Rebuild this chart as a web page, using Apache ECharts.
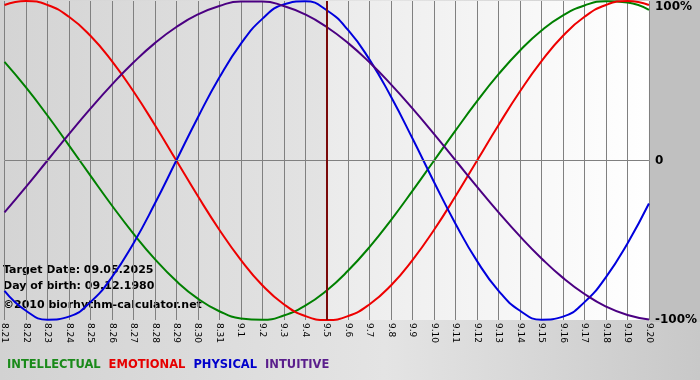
<!DOCTYPE html>
<html>
<head>
<meta charset="utf-8">
<script src="https://cdn.jsdelivr.net/npm/echarts@6/dist/echarts.min.js"></script>
<style>
html,body{margin:0;padding:0;}
#chart{width:700px;height:380px;}
</style>
</head>
<body>
<div id="chart"></div>
<script>
const days = ['8.21','8.22','8.23','8.24','8.25','8.26','8.27','8.28','8.29','8.30','8.31',
  '9.1','9.2','9.3','9.4','9.5','9.6','9.7','9.8','9.9','9.10','9.11','9.12','9.13','9.14','9.15','9.16','9.17','9.18','9.19','9.20'];
const targetDay = '9.5';
const intellectual = [61.8,45.8,28.2,9.5,-9.5,-28.2,-45.8,-61.8,-75.6,-86.6,-94.5,-99.0,-99.9,-97.2,-91.0,-81.5,-69.0,-54.1,-37.2,-18.9,0,18.9,37.2,54.1,69.0,81.5,91.0,97.2,99.9,99.0,94.5];
const emotional = [97.5,100,97.5,90.1,78.2,62.3,43.4,22.3,0,-22.3,-43.4,-62.3,-78.2,-90.1,-97.5,-100,-97.5,-90.1,-78.2,-62.3,-43.4,-22.3,0,22.3,43.4,62.3,78.2,90.1,97.5,100,97.5];
const physical = [-81.7,-94.2,-99.8,-97.9,-88.8,-73.1,-52.0,-27.0,0,27.0,52.0,73.1,88.8,97.9,99.8,94.2,81.7,63.1,39.8,13.6,-13.6,-39.8,-63.1,-81.7,-94.2,-99.8,-97.9,-88.8,-73.1,-52.0,-27.0];
const intuitive = [-32.5,-16.5,0,16.5,32.5,47.6,61.4,73.6,83.7,91.6,96.9,99.7,99.7,96.9,91.6,83.7,73.6,61.4,47.6,32.5,16.5,0,-16.5,-32.5,-47.6,-61.4,-73.6,-83.7,-91.6,-96.9,-99.7];
const yTicks = {'-100':'-100%','0':'0','100':'100%'};
const infoLines = ['Target Date: 09.05.2025','Day of birth: 09.12.1980','©2010 biorhythm-calculator.net'];

const C = {intel:'#008000', emo:'#ee0000', phys:'#0000dd', intu:'#4b0082'};
const chart = echarts.init(document.getElementById('chart'));
const FONT = '"DejaVu Sans", Verdana, sans-serif';

function mk(name, data, color, extra){
  return Object.assign({
    name, type:'line', data, smooth:0.5, symbol:'none',
    lineStyle:{color, width:2}, itemStyle:{color}, z:3
  }, extra||{});
}

chart.setOption({
  animation:false,
  backgroundColor:{type:'linear',x:0,y:0,x2:1,y2:0,colorStops:[
    {offset:0,color:'#d2d2d2'},{offset:0.55,color:'#e4e4e4'},{offset:1,color:'#c8c8c8'}]},
  textStyle:{fontFamily:FONT},
  grid:{left:1,right:50,top:1,bottom:60,show:true,borderWidth:0,
    backgroundColor:{type:'linear',x:0,y:0,x2:1,y2:0,colorStops:[
      {offset:0,color:'#d4d4d4'},{offset:0.5,color:'#e3e3e3'},
      {offset:0.5,color:'#ebebeb'},{offset:1,color:'#ffffff'}]}},
  graphic:[
    {type:'rect',z:-10,shape:{x:650,y:0,width:50,height:322},style:{fill:'#c0c0c0'}},
    {type:'text',left:3,top:265,style:{text:infoLines[0],font:'bold 11px '+FONT,fill:'#000'}},
    {type:'text',left:3,top:281,style:{text:infoLines[1],font:'bold 11px '+FONT,fill:'#000'}},
    {type:'text',left:3,top:300,style:{text:infoLines[2],font:'bold 11px '+FONT,fill:'#000'}}
  ],
  legend:{
    left:-3, top:354, itemWidth:0, itemHeight:0, itemGap:3, selectedMode:false,
    textStyle:{fontFamily:FONT,fontWeight:'bold',fontSize:11.5},
    data:[
      {name:'INTELLECTUAL',icon:'none',textStyle:{color:'#1a8a1a'}},
      {name:'EMOTIONAL',icon:'none',textStyle:{color:'#e60000'}},
      {name:'PHYSICAL',icon:'none',textStyle:{color:'#0000cc'}},
      {name:'INTUITIVE',icon:'none',textStyle:{color:'#5a1e8c'}}
    ]
  },
  xAxis:{
    type:'category', data:days, boundaryGap:false,
    axisLine:{show:true,lineStyle:{color:'#f4f4f4',width:1}},
    axisTick:{show:true,interval:0,length:4,lineStyle:{color:'#808080'}},
    splitLine:{show:true,interval:0,lineStyle:{color:'#808080',width:1}},
    axisLabel:{interval:0,rotate:-90,margin:3,fontSize:9,color:'#000',fontFamily:FONT}
  },
  yAxis:{
    type:'value', position:'right', min:-100, max:100, interval:100,
    axisLine:{show:false}, axisTick:{show:false},
    splitLine:{show:false},
    axisLabel:{margin:6,fontSize:12,fontWeight:'bold',color:'#000',fontFamily:FONT,
      verticalAlignMaxLabel:'top',
      formatter:v=>yTicks[String(v)]}
  },
  series:[
    mk('INTELLECTUAL', intellectual, C.intel, {
      markLine:{silent:true,symbol:'none',label:{show:false},
        lineStyle:{color:'#7a0a0a',width:2,type:'solid'},
        data:[
          {yAxis:0,lineStyle:{color:'#808080',width:1,type:'solid'}},
          {xAxis:targetDay}
        ]}
    }),
    mk('EMOTIONAL', emotional, C.emo),
    mk('PHYSICAL', physical, C.phys),
    mk('INTUITIVE', intuitive, C.intu)
  ]
});
</script>
</body>
</html>
